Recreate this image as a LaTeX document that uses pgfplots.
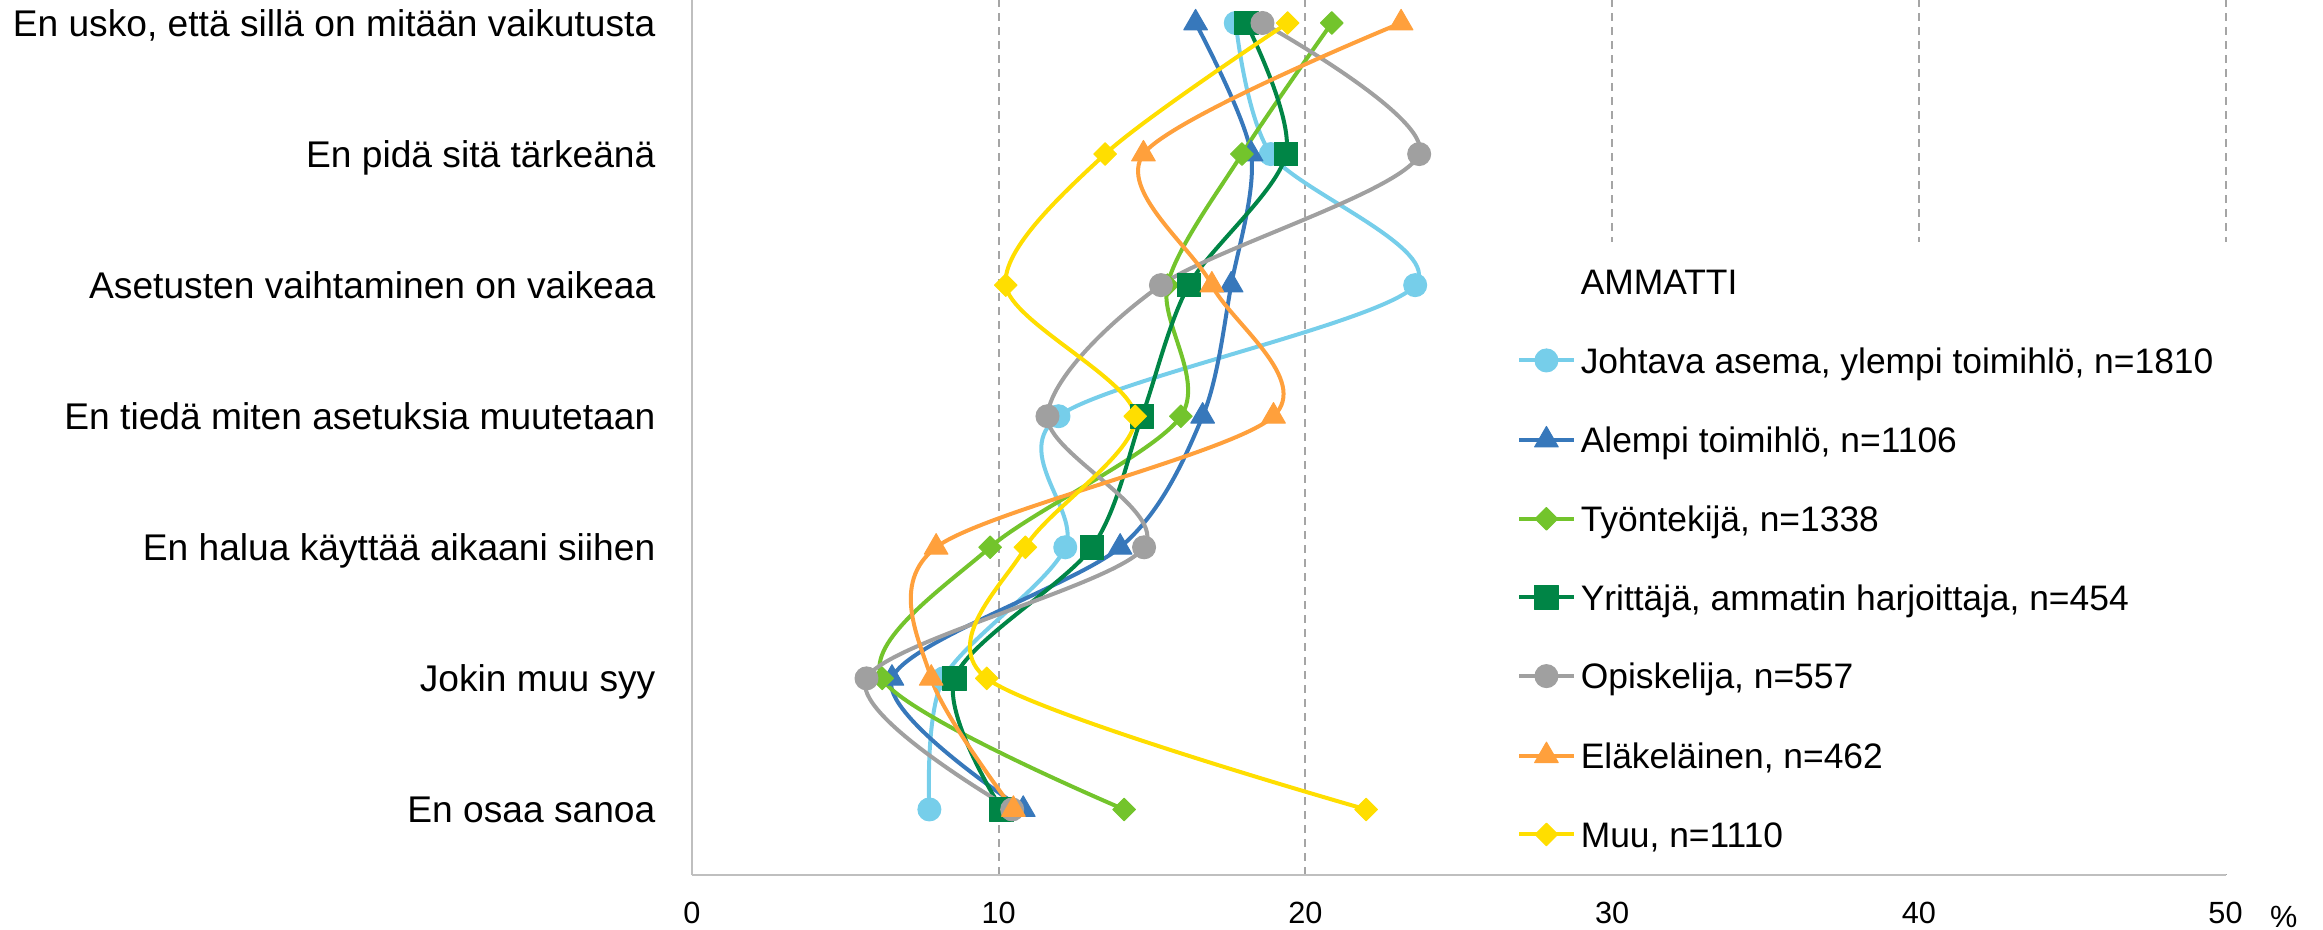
\documentclass[border=0pt]{standalone}
\usepackage{pgfplots}
\pgfplotsset{compat=1.18}
\usepackage{fontspec}
\setmainfont{Liberation Sans}
\definecolor{c1}{RGB}{118,206,234}
\definecolor{c2}{RGB}{55,120,187}
\definecolor{c3}{RGB}{115,196,44}
\definecolor{c4}{RGB}{0,133,70}
\definecolor{c5}{RGB}{160,160,160}
\definecolor{c6}{RGB}{255,160,60}
\definecolor{c7}{RGB}{255,222,0}
\definecolor{axisgray}{RGB}{191,191,191}
\definecolor{gridgray}{RGB}{165,165,165}
\pgfplotsset{
  ser/.style={smooth, tension=0.5, line width=1.2pt, line join=round},
}
\begin{document}
\begin{tikzpicture}
\begin{axis}[
  name=ax,
  scale only axis,
  width=460.05pt, height=262.5pt,
  xmin=0, xmax=50, ymin=0.5, ymax=7.1756,
  xtick={0,10,20,30,40,50},
  ytick={1,2,3,4,5,6,7},
  yticklabels={En osaa sanoa, Jokin muu syy, En halua käyttää aikaani siihen, En tiedä miten asetuksia muutetaan, Asetusten vaihtaminen on vaikeaa, En pidä sitä tärkeänä, {En usko, että sillä on mitään vaikutusta}},
  axis x line*=bottom, axis y line*=left,
  axis line style={draw=axisgray, line width=0.6pt},
  tick style={draw=none},
  major tick length=0pt,
  xmajorgrids,
  major grid style={draw=gridgray, line width=0.6pt, dash pattern=on 2.4pt off 1.8pt},
  /pgf/number format/assume math mode=true,
  xticklabel style={font=\fontsize{9.2}{10}\selectfont, anchor=center, inner sep=0pt, text height=6.5pt, text depth=0pt, yshift=-11.3pt},
  yticklabel style={font=\fontsize{11.15}{13}\selectfont, anchor=east, inner sep=0pt, text height=8pt, text depth=0pt, xshift=-10.8pt},
  clip=false,
  legend cell align=left,
  legend style={at={(axis cs:26.24,5.336)}, anchor=north west, fill=white, draw=none,
    inner xsep=6pt, inner ysep=8.2pt, row sep=16pt, column sep=1.6pt,
    font=\fontsize{10.62}{12.5}\selectfont,
    nodes={inner sep=0pt, text height=7.6pt, text depth=0pt}},
  legend image code/.code={\draw[mark repeat=2,mark phase=2] plot coordinates {(0pt,0pt) (8.1pt,0pt) (16.2pt,0pt)};},
]
\addlegendimage{empty legend}
\addlegendentry{AMMATTI}

\addplot[ser, c1, mark=*, mark size=3.45pt, mark options={solid, line width=0.3pt}]
  coordinates {(17.73,7) (18.87,6) (23.58,5) (11.95,4) (12.17,3) (8.2,2) (7.74,1)};
\addlegendentry{Johtava asema, ylempi toimihlö, n=1810}

\addplot[ser, c2, mark=triangle*, mark size=4.1pt, mark options={solid, line width=0.3pt}]
  coordinates {(16.42,7) (18.23,6) (17.58,5) (16.65,4) (13.96,3) (6.52,2) (10.8,1)};
\addlegendentry{Alempi toimihlö, n=1106}

\addplot[ser, c3, mark=square*, mark size=2.4pt, mark options={solid, rotate=45, line width=0.3pt}]
  coordinates {(20.86,7) (17.93,6) (15.5,5) (15.94,4) (9.72,3) (6.2,2) (14.09,1)};
\addlegendentry{Työntekijä, n=1338}

\addplot[ser, c4, mark=square*, mark size=3.55pt, mark options={solid, line width=0.3pt}]
  coordinates {(18.07,7) (19.37,6) (16.20,5) (14.67,4) (13.04,3) (8.56,2) (10.1,1)};
\addlegendentry{Yrittäjä, ammatin harjoittaja, n=454}

\addplot[ser, c5, mark=*, mark size=3.45pt, mark options={solid, line width=0.3pt}]
  coordinates {(18.60,7) (23.71,6) (15.29,5) (11.59,4) (14.74,3) (5.69,2) (10.44,1)};
\addlegendentry{Opiskelija, n=557}

\addplot[ser, c6, mark=triangle*, mark size=4.1pt, mark options={solid, line width=0.3pt}]
  coordinates {(23.12,7) (14.72,6) (16.95,5) (18.96,4) (7.96,3) (7.80,2) (10.48,1)};
\addlegendentry{Eläkeläinen, n=462}

\addplot[ser, c7, mark=square*, mark size=2.4pt, mark options={solid, rotate=45, line width=0.3pt}]
  coordinates {(19.42,7) (13.47,6) (10.23,5) (14.45,4) (10.87,3) (9.61,2) (21.98,1)};
\addlegendentry{Muu, n=1110}
\end{axis}
\node[font=\fontsize{9.2}{10}\selectfont, inner sep=0pt, text height=6.5pt, text depth=0pt] at ([shift={(17.5pt,-12.6pt)}]ax.south east) {\%};
\pgfresetboundingbox
\path[use as bounding box] ([shift={(-207.6pt,-16.5pt)}]ax.south west) rectangle ([shift={(29.25pt,0pt)}]ax.north east);
\end{tikzpicture}
\end{document}
